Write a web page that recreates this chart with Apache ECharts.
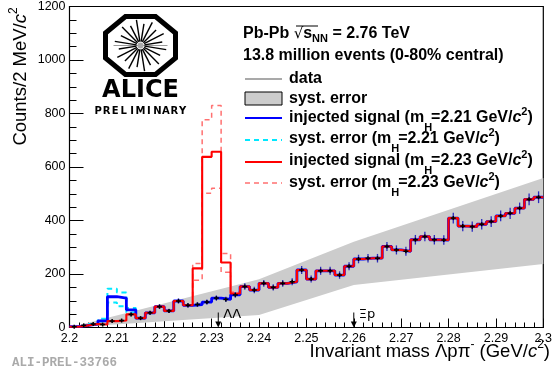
<!DOCTYPE html>
<html>
<head>
<meta charset="utf-8">
<script src="https://cdn.jsdelivr.net/npm/echarts@6/dist/echarts.min.js"></script>
<style>
html, body { margin: 0; padding: 0; background: #fff; }
#chart { width: 555px; height: 373px; }
</style>
</head>
<body>
<div id="chart"></div>
<script>
// bins of 2 MeV from 2200 to 2300 MeV (axis in MeV, labels shown in GeV)
var binStart = 2200, binWidth = 2;

// data (50 bins)
var dataCounts = [3, 8, 13, 11, 24, 26, 49, 35, 55, 78,
  62, 99, 83, 86, 95, 110, 105, 122, 153, 140,
  165, 150, 165, 171, 215, 181, 212, 212, 196, 229,
  256, 259, 259, 303, 290, 285, 328, 340, 328, 327,
  409, 379, 377, 386, 396, 417, 427, 446, 479, 487];
var dataErrors = [2, 3, 4, 3, 5, 5, 7, 6, 7, 9,
  8, 10, 9, 9, 10, 10, 10, 11, 12, 12,
  13, 12, 13, 13, 15, 13, 15, 15, 14, 15,
  16, 16, 16, 17, 17, 17, 18, 18, 18, 18,
  20, 19, 19, 20, 20, 20, 21, 21, 22, 22];

// injected signal mH = 2.21 GeV (bins where it differs from data)
var sig221First = 3;
var sig221 = [25, 115, 110, 66];
var sys221First = 2;
var sys221Hi = [13, 33, 145, 131, 73, 35];
var sys221Lo = [13, 18, 93, 79, 56, 35];

// injected signal mH = 2.23 GeV
var sig223First = 13;
var sig223 = [221, 638, 657, 243, 127];
var sys223First = 12;
var sys223Hi = [83, 239, 777, 830, 277, 133, 153];
var sys223Lo = [83, 177, 502, 521, 207, 122, 153];

// systematic error band of the data
var bandX = [2200, 2240, 2260, 2300];
var bandHi = [0, 180, 321, 559];
var bandLo = [0, 47, 159, 237];

// thresholds
var thrX = [2231.4, 2260.0];
var thrLabel = ['ΛΛ', 'Ξp'];

function withSignal(first, vals) {
  var out = dataCounts.slice();
  for (var i = 0; i < vals.length; i++) out[first + i] = vals[i];
  return out;
}
function stepPoints(first, vals) {
  var pts = [];
  for (var i = 0; i < vals.length; i++) pts.push([binStart + (first + i) * binWidth, vals[i]]);
  pts.push([binStart + (first + vals.length) * binWidth, vals[vals.length - 1]]);
  return pts;
}

var chart = echarts.init(document.getElementById('chart'));

var SANS = 'Liberation Sans';
var mctx = document.createElement('canvas').getContext('2d');
function textRun(x, y, parts) {
  var out = [];
  parts.forEach(function (p) {
    var size = p.size || 16, weight = p.weight || 'bold', style = p.style || 'normal';
    var fam = p.family || SANS;
    mctx.font = style + ' ' + weight + ' ' + size + 'px "' + fam + '"';
    out.push({
      type: 'text', x: x, y: y + (p.dy || 0),
      style: { text: p.t, fontSize: size, fontWeight: weight, fontStyle: style, fontFamily: fam,
        fill: '#000', align: 'left', verticalAlign: 'middle', textAlign: 'left', textVerticalAlign: 'middle' }
    });
    x += mctx.measureText(p.t).width + (p.kern || 0);
  });
  return out;
}
function massParts(pre, m) {
  return [{ t: pre + ' (m' }, { t: 'H', size: 11, dy: 10, kern: -1 }, { t: '=' + m + ' GeV/' },
    { t: 'c', style: 'italic' }, { t: '2', size: 11, dy: -6 }, { t: ')' }];
}

// legend
var legX = 289, lineX1 = 245, lineX2 = 282;
var legend = [];
legend = legend.concat(textRun(243, 34, [{ t: 'Pb-Pb ' }, { t: '√', weight: 'normal', family: 'DejaVu Sans', size: 15 },
  { t: 's' }, { t: 'NN', size: 11, dy: 5 }, { t: ' = 2.76 TeV' }]));
legend.push({ type: 'line', shape: { x1: 296, y1: 26, x2: 318, y2: 26 }, style: { stroke: '#000', lineWidth: 1 } });
legend = legend.concat(textRun(243, 56, [{ t: '13.8 million events (0-80% central)' }]));
legend.push({ type: 'line', shape: { x1: lineX1, y1: 79, x2: lineX2, y2: 79 }, style: { stroke: '#555', lineWidth: 1.2 } });
legend = legend.concat(textRun(legX, 79, [{ t: 'data' }]));
legend.push({ type: 'rect', shape: { x: lineX1, y: 92, width: lineX2 - lineX1, height: 13 }, style: { fill: '#cccccc', stroke: '#000', lineWidth: 1 } });
legend = legend.concat(textRun(legX, 98.5, [{ t: 'syst. error' }]));
legend.push({ type: 'line', shape: { x1: lineX1, y1: 118, x2: lineX2, y2: 118 }, style: { stroke: '#0000ff', lineWidth: 2 } });
legend = legend.concat(textRun(legX, 118, massParts('injected signal', '2.21')));
legend.push({ type: 'line', shape: { x1: lineX1, y1: 140, x2: lineX2, y2: 140 }, style: { stroke: '#00e8ff', lineWidth: 2, lineDash: [5, 4] } });
legend = legend.concat(textRun(legX, 139, massParts('syst. error', '2.21')));
legend.push({ type: 'line', shape: { x1: lineX1, y1: 162, x2: lineX2, y2: 162 }, style: { stroke: '#ff0000', lineWidth: 2 } });
legend = legend.concat(textRun(legX, 161, massParts('injected signal', '2.23')));
legend.push({ type: 'line', shape: { x1: lineX1, y1: 183, x2: lineX2, y2: 183 }, style: { stroke: '#ff7070', lineWidth: 1.5, lineDash: [5, 4] } });
legend = legend.concat(textRun(legX, 182.5, massParts('syst. error', '2.23')));

// axis titles
var xTitle = textRun(0, 0, [{ t: 'Invariant mass Λpπ', weight: 'normal', size: 18.5 }, { t: '-', weight: 'normal', size: 12, dy: -7 },
  { t: ' (GeV/', weight: 'normal', size: 18.5 }, { t: 'c', weight: 'normal', style: 'italic', size: 18.5 },
  { t: '2', weight: 'normal', size: 12, dy: -7 }, { t: ')', weight: 'normal', size: 18.5 }]);
var xTitleW = xTitle[xTitle.length - 1].x + 6.2;
xTitle.forEach(function (e) { e.x += 550 - xTitleW; e.y += 352; });
var yTitle = textRun(0, 0, [{ t: 'Counts/2 MeV/', weight: 'normal', size: 18.5 }, { t: 'c', weight: 'normal', style: 'italic', size: 18.5 },
  { t: '2', weight: 'normal', size: 12, dy: -7 }]);
var yTitleW = yTitle[yTitle.length - 1].x + 7;
yTitle.forEach(function (e) { e.x -= yTitleW; });

// ALICE logo
var cx = 140.5, cy = 45.5, W = 35, H = 29, k = 0.43;
var logo = [];
logo.push({ type: 'polygon', shape: { points: [[cx - W, cy - H * k], [cx - W * k, cy - H], [cx + W * k, cy - H], [cx + W, cy - H * k],
  [cx + W, cy + H * k], [cx + W * k, cy + H], [cx - W * k, cy + H], [cx - W, cy + H * k]] },
  style: { fill: '#fff', stroke: '#000', lineWidth: 5, lineJoin: 'miter' } });
logo.push({ type: 'line', shape: { x1: cx - 27, y1: cy, x2: cx + 27, y2: cy }, style: { stroke: '#999', lineWidth: 1 } });
for (var a = 0; a < 20; a++) {
  var ang = (a + 0.5) * Math.PI / 10, r2 = (a % 2 ? 22 : 26), r1 = 4;
  logo.push({ type: 'line', shape: { x1: cx + r1 * Math.cos(ang), y1: cy + r1 * Math.sin(ang), x2: cx + r2 * Math.cos(ang), y2: cy + r2 * Math.sin(ang) },
    style: { stroke: '#000', lineWidth: 1.4 } });
}
logo.push({ type: 'circle', shape: { cx: cx, cy: cy, r: 3 }, style: { fill: '#aaa' } });
logo.push({ type: 'text', x: cx, y: 91, style: { text: 'ALICE', fontSize: 24, fontWeight: 'bold', fontFamily: 'DejaVu Sans',
  fill: '#000', align: 'center', verticalAlign: 'middle', textAlign: 'center', textVerticalAlign: 'middle' } });
var prelim = 'PRELIMINARY';
for (var j = 0; j < prelim.length; j++) {
  logo.push({ type: 'text', x: 94 + 8.45 * (j + 0.5), y: 111, style: { text: prelim[j], fontSize: 10, fontWeight: 'bold', fontFamily: 'DejaVu Sans',
    fill: '#000', align: 'center', verticalAlign: 'middle', textAlign: 'center', textVerticalAlign: 'middle' } });
}

var axisCommon = {
  axisLine: { show: true, lineStyle: { color: '#000', width: 1 } },
  splitLine: { show: false },
  axisLabel: { color: '#000', fontSize: 12.5, fontFamily: SANS }
};

var option = {
  animation: false,
  backgroundColor: '#fff',
  grid: { left: 69.5, right: 3, top: 6.5, bottom: 45.5, show: true, borderColor: '#000', borderWidth: 1.2, backgroundColor: 'transparent' },
  xAxis: echarts.util.merge({
    type: 'value', min: 2200, max: 2300, interval: 10,
    axisTick: { inside: true, length: 9, lineStyle: { color: '#000' } },
    minorTick: { show: true, splitNumber: 5, length: 5, lineStyle: { color: '#000' } },
    axisLabel: { margin: 5, formatter: function (v) { return String(+(v / 1000).toFixed(3)); } }
  }, axisCommon, false),
  yAxis: echarts.util.merge({
    type: 'value', min: 0, max: 1200, interval: 200,
    axisTick: { inside: true, length: 14, lineStyle: { color: '#000' } },
    minorTick: { show: true, splitNumber: 4, length: 7, lineStyle: { color: '#000' } },
    axisLabel: { margin: 4, formatter: function (v) { return String(v); } }
  }, axisCommon, false),
  graphic: [
    { type: 'group', z: 100, children: legend },
    { type: 'group', z: 100, children: xTitle },
    { type: 'group', z: 100, x: 21, y: 7, rotation: Math.PI / 2, children: yTitle },
    { type: 'group', z: 100, children: logo },
    { type: 'text', z: 100, x: 12, y: 363, style: { text: 'ALI-PREL-33766', fontSize: 12.5, fontWeight: 'bold', fontFamily: 'Liberation Mono',
      fill: '#aaa', align: 'left', verticalAlign: 'middle', textAlign: 'left', textVerticalAlign: 'middle' } }
  ],
  series: [
    {
      type: 'custom', z: 1, silent: true, data: [[bandX[0], 0]],
      renderItem: function (params, api) {
        var pts = [], i;
        for (i = 0; i < bandX.length; i++) pts.push(api.coord([bandX[i], bandHi[i]]));
        for (i = bandX.length - 1; i >= 0; i--) pts.push(api.coord([bandX[i], bandLo[i]]));
        return { type: 'polygon', shape: { points: pts }, style: { fill: '#cccccc' } };
      }
    },
    { type: 'line', z: 2, step: 'end', symbol: 'none', data: stepPoints(sys221First, sys221Hi), lineStyle: { color: '#00e8ff', width: 2, type: [5, 4] } },
    { type: 'line', z: 2, step: 'end', symbol: 'none', data: stepPoints(sys221First, sys221Lo), lineStyle: { color: '#00e8ff', width: 2, type: [5, 4] } },
    { type: 'line', z: 2, step: 'end', symbol: 'none', data: stepPoints(sys223First, sys223Hi), lineStyle: { color: '#ff7070', width: 1.5, type: [5, 4] } },
    { type: 'line', z: 2, step: 'end', symbol: 'none', data: stepPoints(sys223First, sys223Lo), lineStyle: { color: '#ff7070', width: 1.5, type: [5, 4] } },
    { type: 'line', z: 3, step: 'end', symbol: 'none', data: stepPoints(0, withSignal(sig221First, sig221)), lineStyle: { color: '#0000ff', width: 2.8 } },
    { type: 'line', z: 4, step: 'end', symbol: 'none', data: stepPoints(0, withSignal(sig223First, sig223)), lineStyle: { color: '#ff0000', width: 2.1 } },
    {
      type: 'custom', z: 5, silent: true,
      data: dataCounts.map(function (v, i) { return [binStart + binWidth * (i + 0.5), v, dataErrors[i]]; }),
      renderItem: function (params, api) {
        var x = api.value(0), y = api.value(1), e = api.value(2);
        var c = api.coord([x, y]), t = api.coord([x, y + e]), b = api.coord([x, y - e]);
        return { type: 'group', children: [
          { type: 'line', shape: { x1: c[0], y1: t[1], x2: c[0], y2: b[1] }, style: { stroke: '#2a2ac0', lineWidth: 1.3 } },
          { type: 'line', shape: { x1: c[0] - 2.5, y1: c[1], x2: c[0] + 2.5, y2: c[1] }, style: { stroke: '#000', lineWidth: 1.5 } },
          { type: 'line', shape: { x1: c[0], y1: c[1] - 2, x2: c[0], y2: c[1] + 2 }, style: { stroke: '#000', lineWidth: 1.5 } }
        ] };
      }
    },
    {
      type: 'custom', z: 6, silent: true, clip: false,
      data: thrX.map(function (x) { return [x, 0]; }),
      renderItem: function (params, api) {
        var p = api.coord([api.value(0), 0]);
        return { type: 'group', children: [
          { type: 'line', shape: { x1: p[0], y1: p[1] - 15, x2: p[0], y2: p[1] - 4 }, style: { stroke: '#000', lineWidth: 1 } },
          { type: 'polygon', shape: { points: [[p[0] - 3, p[1] - 6], [p[0] + 3, p[1] - 6], [p[0], p[1]]] }, style: { fill: '#000' } },
          { type: 'text', x: p[0] + 5, y: p[1] - 13, style: { text: thrLabel[params.dataIndex], fontSize: 13, fontFamily: 'DejaVu Sans',
            fill: '#000', align: 'left', verticalAlign: 'middle', textAlign: 'left', textVerticalAlign: 'middle' } }
        ] };
      }
    }
  ]
};
chart.setOption(option);
</script>
</body>
</html>
